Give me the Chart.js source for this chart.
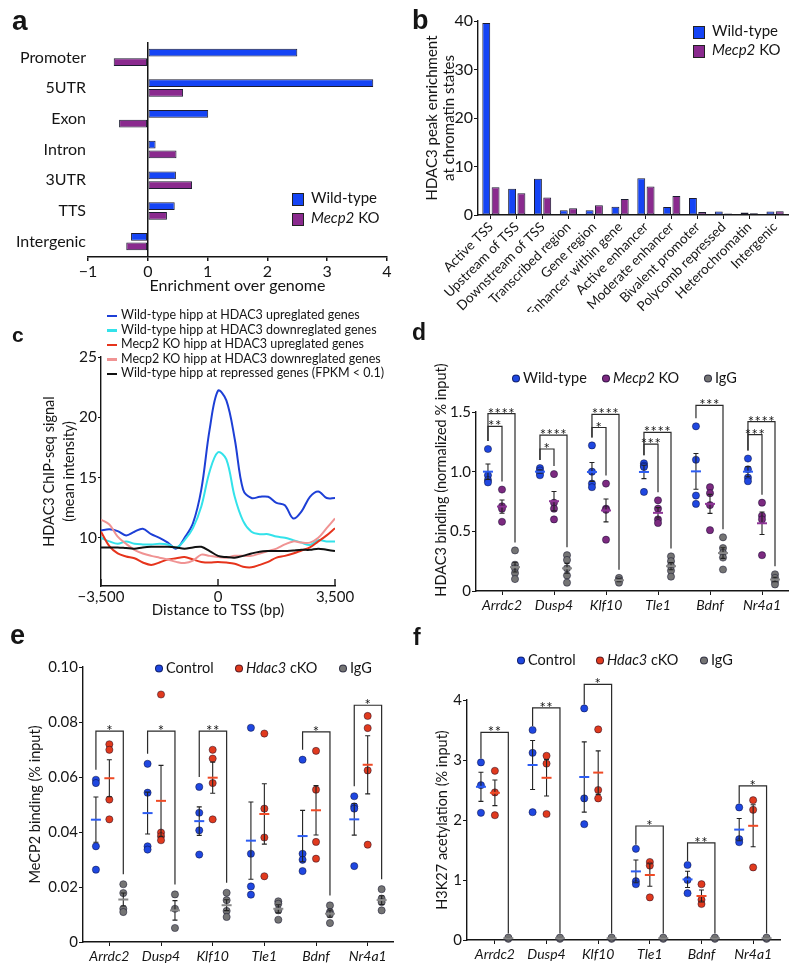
<!DOCTYPE html>
<html>
<head>
<meta charset="utf-8">
<script src="https://cdn.jsdelivr.net/npm/chart.js@4.4.0/dist/chart.umd.min.js"></script>
<style>
  body { margin: 0; background: #fff; }
  #fig { position: relative; width: 800px; height: 968px; overflow: hidden; font-family: Lato, "Open Sans", sans-serif; color: #151515; }
  canvas { position: absolute; }
  .tag { position: absolute; font-family: "Liberation Sans", Arial, sans-serif; font-weight: bold; line-height: 1; }
  .lg { position: absolute; white-space: nowrap; }
  .item { position: absolute; white-space: nowrap; transform: translateY(-50%); }
  .box { display: inline-block; width: 12px; height: 13px; border: 1px solid #222; vertical-align: middle; margin-right: 7px; box-sizing: border-box; }
  .dash { display: inline-block; width: 10px; height: 2.5px; vertical-align: middle; margin-right: 4px; }
  .dot { display: inline-block; width: 8px; height: 8px; border-radius: 50%; vertical-align: middle; margin-right: 3px; box-sizing: border-box; border: 0.8px solid rgba(0,0,30,0.6); }
  .ytitle { position: absolute; white-space: nowrap; transform: translate(-50%, -50%) rotate(-90deg); }
</style>
</head>
<body>
<div id="fig">
  <canvas id="ca" width="400" height="300" style="left:0;top:0"></canvas>
  <canvas id="cb" width="400" height="312" style="left:400px;top:0"></canvas>
  <canvas id="cc" width="400" height="282" style="left:0;top:340px"></canvas>
  <canvas id="cd" width="400" height="235" style="left:400px;top:380px"></canvas>
  <canvas id="ce" width="400" height="318" style="left:0;top:650px"></canvas>
  <canvas id="cf" width="400" height="318" style="left:400px;top:650px"></canvas>

  <span class="tag" style="left:12px;top:7px;font-size:28px">a</span>
  <span class="tag" style="left:412px;top:7px;font-size:27px">b</span>
  <span class="tag" style="left:12px;top:324px;font-size:21px">c</span>
  <span class="tag" style="left:412px;top:321px;font-size:23px">d</span>
  <span class="tag" style="left:10px;top:622px;font-size:27px">e</span>
  <span class="tag" style="left:413px;top:626px;font-size:23px">f</span>

  <div id="lga" class="lg" style="left:292px;top:187px;font-size:15px;line-height:20px"></div>
  <div id="lgb" class="lg" style="left:693px;top:21px;font-size:15px;line-height:19px"></div>
  <div id="lgc" class="lg" style="left:107px;top:308px;font-size:12.5px;line-height:14.6px"></div>
  <div id="lgd" class="lg" style="left:0;top:377px;font-size:14.5px"></div>
  <div id="lge" class="lg" style="left:0;top:667px;font-size:14.5px"></div>
  <div id="lgf" class="lg" style="left:0;top:659px;font-size:14.5px"></div>

  <div class="ytitle" style="left:440px;top:480px;font-size:14.5px">HDAC3 binding (normalized % input)</div>
</div>

<script>
// a: peak distribution over genomic features
const regionLabels = ['Promoter', '5UTR', 'Exon', 'Intron', '3UTR', 'TTS', 'Intergenic'];
const regionWT = [2.5, 3.77, 1.01, 0.13, 0.47, 0.45, -0.28];
const regionKO = [-0.57, 0.59, -0.48, 0.48, 0.74, 0.32, -0.36];

// b: chromatin states
const stateLabels = ['Active TSS', 'Upstream of TSS', 'Downstream of TSS', 'Transcribed region', 'Gene region',
  'Enhancer within gene', 'Active enhancer', 'Moderate enhancer', 'Bivalent promoter', 'Polycomb repressed',
  'Heterochromatin', 'Intergenic'];
const stateWT = [39.6, 5.4, 7.5, 1.0, 1.0, 1.7, 7.6, 1.65, 3.5, 0.7, 0.5, 0.7];
const stateKO = [5.7, 4.5, 3.6, 1.4, 2.0, 3.3, 5.9, 3.9, 0.6, 0.3, 0.35, 0.75];

// c: ChIP-seq profiles around TSS
const tssDistance = [-3500, -3250, -3000, -2750, -2500, -2250, -2000, -1750, -1500, -1250, -1000, -750, -500, -250, 0,
  250, 500, 750, 1000, 1250, 1500, 1750, 2000, 2250, 2500, 2750, 3000, 3250, 3500];
const wtUp = [10.6, 10.7, 10.55, 10.2, 10.5, 10.75, 10.3, 10.0, 9.6, 9.1, 10.0, 11.2, 14.0, 19.0, 22.2, 21.4, 18.2, 14.0,
  13.3, 13.4, 13.4, 12.9, 12.7, 11.6, 12.2, 13.4, 13.85, 13.3, 13.3];
const wtDown = [10.0, 9.7, 9.5, 9.7, 9.5, 9.45, 9.45, 9.5, 9.45, 9.2, 9.8, 10.8, 12.6, 15.5, 17.1, 16.5, 13.4, 11.4,
  10.5, 10.3, 10.3, 10.1, 10.0, 9.8, 9.6, 9.4, 9.8, 9.7, 9.7];
const koUp = [10.5, 9.3, 8.7, 8.45, 8.3, 7.95, 7.75, 7.95, 8.2, 8.3, 8.4, 8.2, 8.0, 7.95, 8.0, 7.95, 7.85, 7.6, 7.55,
  7.75, 8.0, 8.35, 8.5, 8.7, 8.95, 9.2, 9.7, 10.2, 10.8];
const koDown = [11.5, 11.1, 10.1, 9.5, 9.0, 8.7, 8.5, 8.35, 8.2, 8.0, 7.9, 8.1, 8.6, 8.5, 8.4, 8.35, 8.5, 8.5, 8.5,
  8.7, 8.9, 9.1, 9.45, 9.7, 9.6, 9.6, 10.0, 10.8, 11.6];
const repressed = [9.2, 9.2, 9.2, 9.15, 9.1, 9.2, 9.25, 9.25, 9.25, 9.2, 9.1, 9.2, 9.25, 8.9, 8.5, 8.4, 8.35, 8.5, 8.7,
  8.85, 8.9, 8.9, 8.9, 8.95, 9.0, 9.0, 9.1, 9.0, 8.9];
const tssTicks = [-3500, 0, 3500];
const profileTicks = [10, 15, 20, 25];

// d/e/f: ChIP-qPCR per gene
const genes = ['Arrdc2', 'Dusp4', 'Klf10', 'Tle1', 'Bdnf', 'Nr4a1'];

const hdacWT = [[1.19, 0.97, 0.93, 0.91], [1.03, 1.01, 0.99, 0.97], [1.22, 1.0, 0.90, 0.87],
  [1.07, 1.05, 1.04, 0.83], [1.38, 1.10, 0.80, 0.73], [1.11, 1.02, 0.95, 0.92]];
const hdacKO = [[0.85, 0.71, 0.69, 0.58], [0.98, 0.74, 0.69, 0.60], [0.90, 0.69, 0.68, 0.43],
  [0.76, 0.69, 0.60, 0.57], [0.87, 0.82, 0.72, 0.51], [0.74, 0.63, 0.60, 0.30]];
const hdacIgG = [[0.34, 0.22, 0.19, 0.15, 0.10], [0.30, 0.26, 0.19, 0.13, 0.07], [0.11, 0.09, 0.07],
  [0.29, 0.25, 0.21, 0.17, 0.12], [0.45, 0.36, 0.32, 0.28, 0.18], [0.14, 0.11, 0.08, 0.055]];
const hdacTicks = [0, 0.5, 1, 1.5];
const hdacBrackets = [
  { gene: 0, from: 0, to: 2, level: 1.486, stars: '****' }, { gene: 0, from: 0, to: 1, level: 1.38, stars: '**' },
  { gene: 1, from: 0, to: 2, level: 1.306, stars: '****' }, { gene: 1, from: 0, to: 1, level: 1.19, stars: '*' },
  { gene: 2, from: 0, to: 2, level: 1.48, stars: '****' }, { gene: 2, from: 0, to: 1, level: 1.37, stars: '*' },
  { gene: 3, from: 0, to: 2, level: 1.33, stars: '****' }, { gene: 3, from: 0, to: 1, level: 1.23, stars: '***' },
  { gene: 4, from: 0, to: 2, level: 1.555, stars: '***' },
  { gene: 5, from: 0, to: 2, level: 1.42, stars: '****' }, { gene: 5, from: 0, to: 1, level: 1.31, stars: '***' }
];

const mecpCtl = [[0.059, 0.0578, 0.0348, 0.0263], [0.0648, 0.0543, 0.0348, 0.0336], [0.0564, 0.047, 0.0406, 0.0318],
  [0.0779, 0.0321, 0.0202, 0.0172], [0.0663, 0.0321, 0.0299, 0.0258], [0.053, 0.0493, 0.0485, 0.0276]];
const mecpKO = [[0.0719, 0.0699, 0.0518, 0.0446], [0.090, 0.0398, 0.0385, 0.037], [0.0699, 0.0667, 0.0578, 0.0446],
  [0.0758, 0.0485, 0.038, 0.0239], [0.0695, 0.0554, 0.0364, 0.0303], [0.0822, 0.0778, 0.0624, 0.0354]];
const mecpIgG = [[0.021, 0.0178, 0.0121, 0.0109], [0.0173, 0.0121, 0.0051], [0.0179, 0.0152, 0.0113, 0.0091],
  [0.0148, 0.0139, 0.0115, 0.0081], [0.0133, 0.0109, 0.0101, 0.0069], [0.0192, 0.0158, 0.0145, 0.0115]];
const mecpTicks = [0, 0.02, 0.04, 0.06, 0.08, 0.10];
const mecpBrackets = [
  { gene: 0, from: 0, to: 2, level: 0.0767, stars: '*' }, { gene: 1, from: 0, to: 2, level: 0.0767, stars: '*' },
  { gene: 2, from: 0, to: 2, level: 0.0767, stars: '**' }, { gene: 4, from: 0, to: 2, level: 0.0764, stars: '*' },
  { gene: 5, from: 0, to: 2, level: 0.0861, stars: '*' }
];

const acCtl = [[2.96, 2.58, 2.12], [3.5, 3.12, 2.13], [3.86, 2.36, 1.93], [1.52, 0.98, 0.93], [1.25, 1.0, 0.78], [2.21, 1.68, 1.63]];
const acKO = [[2.82, 2.46, 2.08], [3.07, 2.94, 2.1], [3.51, 2.5, 2.36], [1.3, 1.24, 0.71], [0.93, 0.67, 0.6], [2.33, 2.17, 1.21]];
const acIgG = [[0.02, 0.04], [0.02, 0.04], [0.02, 0.04], [0.02, 0.04], [0.02, 0.04], [0.02, 0.04]];
const acTicks = [0, 1, 2, 3, 4];
const acBrackets = [
  { gene: 0, from: 0, to: 2, level: 3.46, stars: '**' }, { gene: 1, from: 0, to: 2, level: 3.87, stars: '**' },
  { gene: 2, from: 0, to: 2, level: 4.26, stars: '*' }, { gene: 3, from: 0, to: 2, level: 1.9, stars: '*' },
  { gene: 4, from: 0, to: 2, level: 1.62, stars: '**' }, { gene: 5, from: 0, to: 2, level: 2.57, stars: '*' }
];

const BAR_BLUE = '#1544f5', BAR_PURPLE = '#8a2a8e';
const BLUE = '#1f47e0', PURPLE = '#7c2a80', RED = '#e03a1e', GREY = '#747474';
const INK = '#151515';
const FONT = 'Lato, "Open Sans", sans-serif';

Chart.defaults.font.family = FONT;
Chart.defaults.color = INK;
Chart.defaults.animation = false;
Chart.defaults.responsive = false;
Chart.defaults.plugins.legend.display = false;
Chart.defaults.plugins.tooltip.enabled = false;

const minus = v => (v < 0 ? '\u2212' : '') + Math.abs(v).toLocaleString('en-US');
const setTicks = list => scale => { scale.ticks = list.map(v => ({ value: v })); };
const border = { color: INK, width: 1.4 };

function meanSem(v) {
  const n = v.length;
  const m = v.reduce((a, b) => a + b, 0) / n;
  const sd = Math.sqrt(v.reduce((a, b) => a + (b - m) ** 2, 0) / (n - 1));
  return [m, sd / Math.sqrt(n)];
}

// mean + SEM marks and significance brackets for the dot plots
const dotPlot = {
  id: 'dotPlot',
  afterDatasetsDraw(chart, args, o) {
    if (!o.series) return;
    const { ctx, scales: { x, y } } = chart;
    ctx.save();
    o.series.forEach(s => s.values.forEach((vals, i) => {
      const [m, se] = meanSem(vals);
      const px = x.getPixelForValue(i + s.offset);
      const y1 = y.getPixelForValue(m - se), y2 = y.getPixelForValue(m + se);
      ctx.strokeStyle = '#222';
      ctx.lineWidth = 1.1;
      ctx.beginPath();
      ctx.moveTo(px, y1); ctx.lineTo(px, y2);
      ctx.moveTo(px - 2.5, y1); ctx.lineTo(px + 2.5, y1);
      ctx.moveTo(px - 2.5, y2); ctx.lineTo(px + 2.5, y2);
      ctx.stroke();
      const pm = y.getPixelForValue(m);
      ctx.strokeStyle = s.mean;
      ctx.lineWidth = 2;
      ctx.beginPath(); ctx.moveTo(px - 5, pm); ctx.lineTo(px + 5, pm); ctx.stroke();
    }));

    const legEnd = (si, g) => {
      const vals = o.series[si].values[g];
      const [m, se] = meanSem(vals);
      return y.getPixelForValue(Math.max(...vals, m + se)) - o.gap;
    };
    ctx.strokeStyle = '#2a2a2a';
    ctx.lineWidth = 1.2;
    ctx.fillStyle = INK;
    ctx.font = '15px ' + FONT;
    ctx.letterSpacing = '0.5px';
    ctx.textAlign = 'center';
    ctx.textBaseline = 'alphabetic';
    o.brackets.forEach(b => {
      const xa = x.getPixelForValue(b.gene + o.series[b.from].offset);
      const xb = x.getPixelForValue(b.gene + o.series[b.to].offset);
      const py = y.getPixelForValue(b.level);
      ctx.beginPath();
      ctx.moveTo(xa, legEnd(b.from, b.gene));
      ctx.lineTo(xa, py);
      ctx.lineTo(xb, py);
      ctx.lineTo(xb, legEnd(b.to, b.gene));
      ctx.stroke();
      ctx.fillText(b.stars, (xa + xb) / 2, py + 5);
    });
    ctx.restore();
  }
};

// short inward tick marks on the profile x axis
const innerTicks = {
  id: 'innerTicks',
  afterDraw(chart, args, o) {
    if (!o.on) return;
    const { ctx, scales: { x }, chartArea } = chart;
    ctx.save();
    ctx.strokeStyle = INK;
    ctx.lineWidth = 1.4;
    x.ticks.forEach(t => {
      const px = x.getPixelForValue(t.value);
      ctx.beginPath(); ctx.moveTo(px, chartArea.bottom); ctx.lineTo(px, chartArea.bottom - 7); ctx.stroke();
    });
    ctx.restore();
  }
};
Chart.register(dotPlot, innerTicks);

// ---- a ----
new Chart(document.getElementById('ca'), {
  type: 'bar',
  data: {
    labels: regionLabels,
    datasets: [
      { data: regionWT, backgroundColor: BAR_BLUE },
      { data: regionKO, backgroundColor: BAR_PURPLE }
    ].map(d => Object.assign(d, { borderColor: '#1c1c30', borderWidth: 1, borderSkipped: false, categoryPercentage: 0.63, barPercentage: 0.8 }))
  },
  options: {
    indexAxis: 'y',
    layout: { padding: { top: 42, right: 13, left: 0, bottom: 0 } },
    scales: {
      x: {
        min: -1, max: 4,
        ticks: { stepSize: 1, font: { size: 16 }, padding: 1, callback: v => minus(v) },
        grid: { color: c => (c.tick && c.tick.value === 0 ? INK : 'rgba(0,0,0,0)'), lineWidth: 1.5, tickColor: INK, tickLength: 4 },
        border,
        title: { display: true, text: 'Enrichment over genome', font: { size: 16 }, padding: { top: 0, bottom: 5 } },
        afterFit: s => { s.height = 43; }
      },
      y: {
        grid: { display: false, drawTicks: false },
        border: { display: false },
        ticks: { font: { size: 16 }, padding: 2 },
        afterFit: s => { s.width = 88; }
      }
    }
  }
});

// ---- b ----
new Chart(document.getElementById('cb'), {
  type: 'bar',
  data: {
    labels: stateLabels,
    datasets: [
      { data: stateWT, backgroundColor: BAR_BLUE },
      { data: stateKO, backgroundColor: BAR_PURPLE }
    ].map(d => Object.assign(d, { borderColor: '#1c1c30', borderWidth: 1, borderSkipped: false, categoryPercentage: 0.72, barPercentage: 0.85 }))
  },
  options: {
    layout: { padding: { top: 21, right: 12, left: 0, bottom: 0 } },
    scales: {
      x: {
        grid: { drawOnChartArea: false, offset: false, tickLength: 4, tickColor: INK },
        border,
        ticks: { autoSkip: false, minRotation: 45, maxRotation: 45, font: { size: 13.5 }, padding: 0 },
        afterFit: s => { s.height = 97; }
      },
      y: {
        min: 0, max: 40,
        ticks: { stepSize: 10, font: { size: 16 }, padding: 1 },
        grid: { drawOnChartArea: false, tickLength: 4, tickColor: INK },
        border,
        title: { display: true, text: ['HDAC3 peak enrichment', 'at chromatin states'], font: { size: 15, lineHeight: 1.1 }, padding: { top: 24, bottom: 0 } },
        afterFit: s => { s.width = 78; }
      }
    }
  }
});

// ---- c ----
const profile = (vals, color) => ({
  data: tssDistance.map((d, i) => ({ x: d, y: vals[i] })),
  borderColor: color, borderWidth: 2, pointRadius: 0, tension: 0.35, fill: false
});
new Chart(document.getElementById('cc'), {
  type: 'line',
  data: {
    datasets: [
      profile(wtUp, '#1d3fd6'),
      profile(wtDown, '#33e2ea'),
      profile(koUp, '#e6341c'),
      profile(koDown, '#f09393'),
      profile(repressed, '#111111')
    ].reverse()
  },
  options: {
    layout: { padding: { top: 17, right: 65, left: 0, bottom: 0 } },
    plugins: { innerTicks: { on: true } },
    scales: {
      x: {
        type: 'linear', min: -3500, max: 3500,
        afterBuildTicks: setTicks(tssTicks),
        ticks: { font: { size: 15 }, padding: 2, callback: v => minus(v) },
        grid: { display: false, drawTicks: false },
        border,
        title: { display: true, text: 'Distance to TSS (bp)', font: { size: 15 }, padding: { top: 0, bottom: 3 } },
        afterFit: s => { s.height = 36; }
      },
      y: {
        min: 6, max: 25,
        afterBuildTicks: setTicks(profileTicks),
        ticks: { font: { size: 15.5 }, padding: 1, autoSkip: false },
        grid: { drawOnChartArea: false, tickLength: 3, tickColor: INK },
        border,
        title: { display: true, text: ['HDAC3 ChIP-seq signal', '(mean intensity)'], font: { size: 14.5, lineHeight: 1.4 }, padding: { top: 39, bottom: 0 } },
        afterFit: s => { s.width = 101; }
      }
    }
  }
});

// ---- d/e/f dot plots ----
function dotChart(id, cfg) {
  const datasets = cfg.series.map(s => ({
    data: s.values.flatMap((vals, i) => vals.map(v => ({ x: i + s.offset, y: v }))),
    backgroundColor: s.color,
    borderColor: 'rgba(0,0,30,0.55)',
    borderWidth: 0.8,
    pointRadius: 3.6,
    clip: false
  }));
  new Chart(document.getElementById(id), {
    type: 'scatter',
    data: { datasets },
    options: {
      layout: { padding: cfg.padding },
      plugins: { dotPlot: { series: cfg.series, brackets: cfg.brackets, gap: cfg.gap } },
      scales: {
        x: {
          type: 'linear', min: cfg.xRange[0], max: cfg.xRange[1],
          afterBuildTicks: setTicks(genes.map((g, i) => i)),
          ticks: { font: { size: 14, style: 'italic' }, padding: 2, callback: v => genes[v] },
          grid: { drawOnChartArea: false, tickLength: 4, tickColor: INK },
          border,
          afterFit: s => { s.height = cfg.xHeight; }
        },
        y: {
          min: 0, max: cfg.yTicks[cfg.yTicks.length - 1],
          afterBuildTicks: setTicks(cfg.yTicks),
          ticks: { font: { size: 15 }, padding: 1, callback: cfg.yFormat },
          grid: { drawOnChartArea: false, tickLength: 4, tickColor: INK },
          border,
          title: cfg.yTitle ? { display: true, text: cfg.yTitle, font: { size: 14.5 }, padding: { top: cfg.titlePad, bottom: 0 } } : { display: false },
          afterFit: s => { s.width = cfg.yWidth; }
        }
      }
    }
  });
}

dotChart('cd', {
  series: [
    { values: hdacWT, offset: -0.27, color: BLUE, mean: '#2c5cf2' },
    { values: hdacKO, offset: 0, color: PURPLE, mean: '#8e3596' },
    { values: hdacIgG, offset: 0.25, color: GREY, mean: '#888' }
  ],
  brackets: hdacBrackets, gap: 8,
  padding: { top: 32, right: 12, left: 0, bottom: 0 },
  xRange: [-0.5, 5.5], xHeight: 24, yWidth: 76,
  yTicks: hdacTicks, yFormat: v => (v === 0 ? '0' : v.toFixed(1))
});

dotChart('ce', {
  series: [
    { values: mecpCtl, offset: -0.26, color: BLUE, mean: '#2c5cf2' },
    { values: mecpKO, offset: 0, color: RED, mean: '#ef4a25' },
    { values: mecpIgG, offset: 0.27, color: GREY, mean: '#888' }
  ],
  brackets: mecpBrackets, gap: 10,
  padding: { top: 17, right: 7, left: 0, bottom: 0 },
  xRange: [-0.51, 5.49], xHeight: 26, yWidth: 83,
  yTicks: mecpTicks, yFormat: v => (v === 0 ? '0' : v.toFixed(2)),
  yTitle: 'MeCP2 binding (% input)', titlePad: 27
});

dotChart('cf', {
  series: [
    { values: acCtl, offset: -0.27, color: BLUE, mean: '#2c5cf2' },
    { values: acKO, offset: 0, color: RED, mean: '#ef4a25' },
    { values: acIgG, offset: 0.26, color: GREY, mean: '#888' }
  ],
  brackets: acBrackets, gap: 4,
  padding: { top: 50, right: 20, left: 0, bottom: 0 },
  xRange: [-0.54, 5.52], xHeight: 28, yWidth: 67,
  yTicks: acTicks, yFormat: v => String(v),
  yTitle: 'H3K27 acetylation (% input)', titlePad: 34
});

// ---- legends ----
function fillLegend(id, items, kind) {
  const el = document.getElementById(id);
  items.forEach(([color, html]) => {
    const row = document.createElement('div');
    row.innerHTML = `<span class="${kind}" style="background:${color}"></span>${html}`;
    el.appendChild(row);
  });
}
// dot legends: each entry placed at the x of its marker centre
function dotLegend(id, items, xs) {
  const el = document.getElementById(id);
  items.forEach(([color, html], i) => {
    const it = document.createElement('span');
    it.className = 'item';
    it.style.left = (xs[i] - 4) + 'px';
    it.innerHTML = `<span class="dot" style="background:${color}"></span>${html}`;
    el.appendChild(it);
  });
}
fillLegend('lga', [[BAR_BLUE, 'Wild-type'], [BAR_PURPLE, '<i>Mecp2</i> KO']], 'box');
fillLegend('lgb', [[BAR_BLUE, 'Wild-type'], [BAR_PURPLE, '<i>Mecp2</i> KO']], 'box');
fillLegend('lgc', [
  ['#1d3fd6', 'Wild-type hipp at HDAC3 upreglated genes'],
  ['#33e2ea', 'Wild-type hipp at HDAC3 downreglated genes'],
  ['#e6341c', 'Mecp2 KO hipp at HDAC3 upreglated genes'],
  ['#f09393', 'Mecp2 KO hipp at HDAC3 downreglated genes'],
  ['#111111', 'Wild-type hipp at repressed genes (FPKM &lt; 0.1)']
], 'dash');
dotLegend('lgd', [[BLUE, 'Wild-type'], [PURPLE, '<i>Mecp2</i> KO'], [GREY, 'IgG']], [516, 606, 708]);
dotLegend('lge', [[BLUE, 'Control'], [RED, '<i>Hdac3</i> cKO'], [GREY, 'IgG']], [159, 239, 343]);
dotLegend('lgf', [[BLUE, 'Control'], [RED, '<i>Hdac3</i> cKO'], [GREY, 'IgG']], [521, 600, 704]);
</script>
</body>
</html>
